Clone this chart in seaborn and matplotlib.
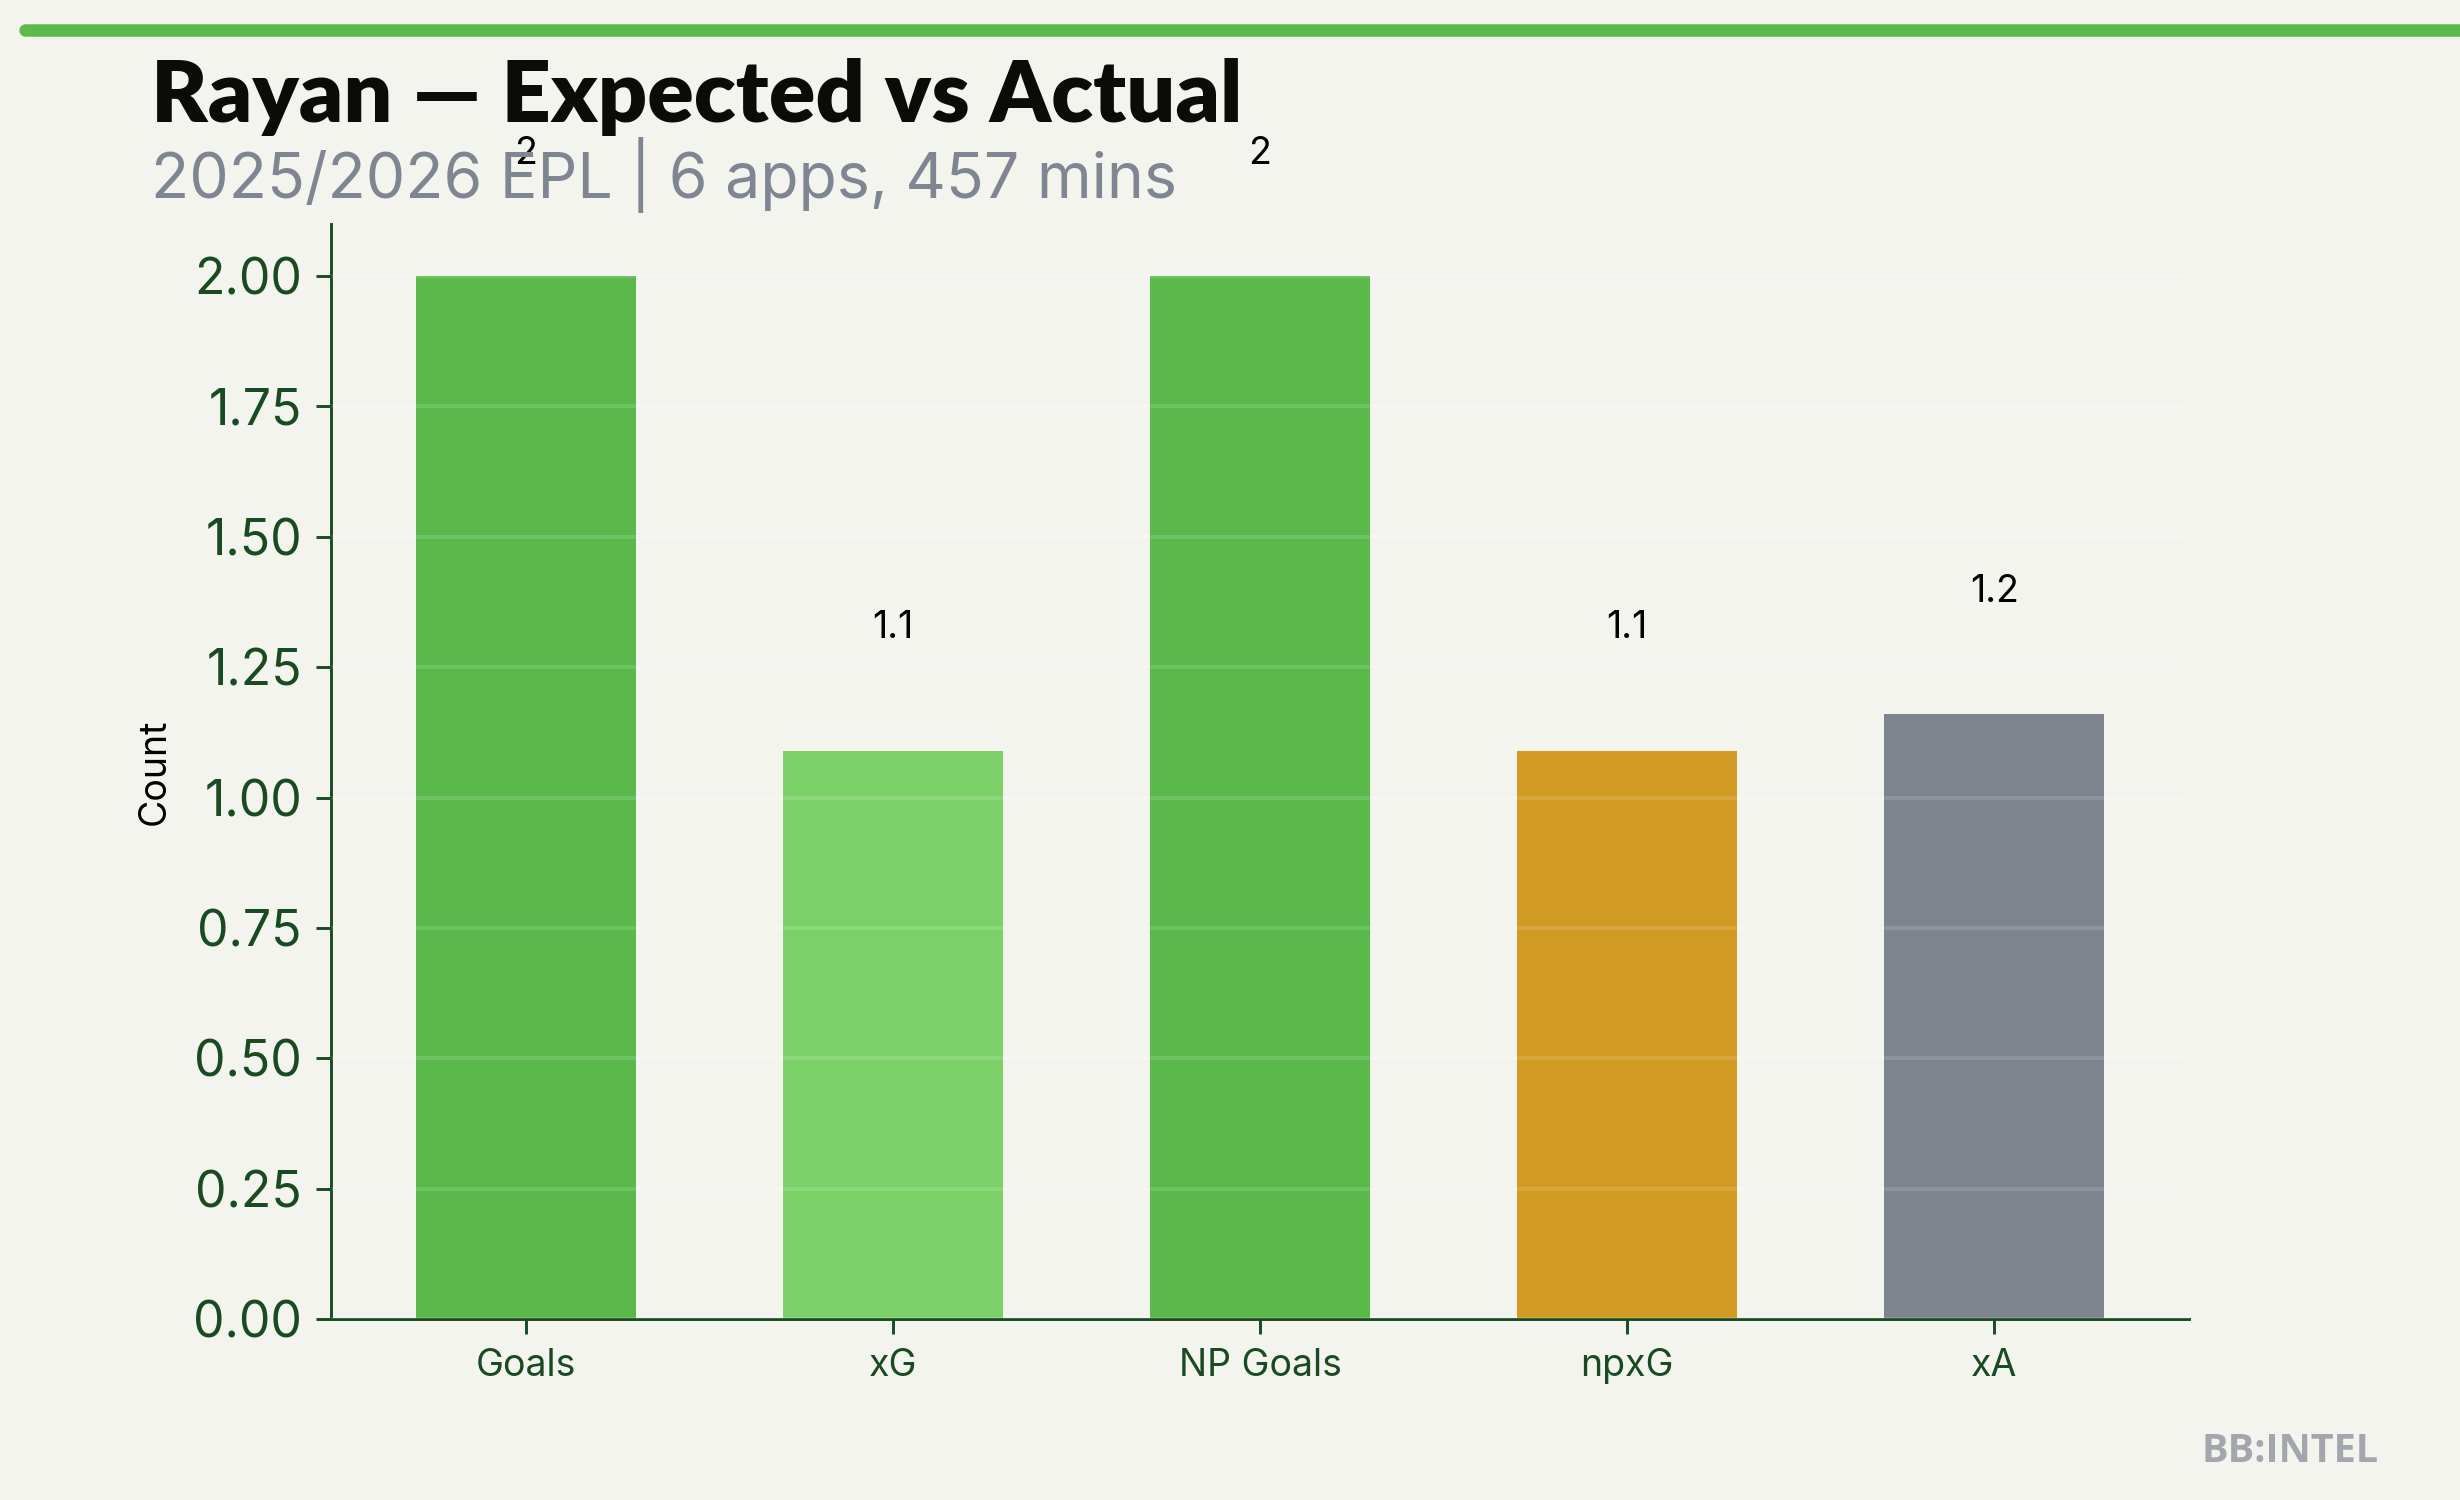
import matplotlib
matplotlib.use("Agg")
import matplotlib.pyplot as plt
import seaborn as sns

# ---------------------------------------------------------------
# Data
categories = ["Goals", "xG", "NP Goals", "npxG", "xA"]
values = [2, 1.09, 2, 1.09, 1.16]
bar_colors = ["#5ab94a", "#7bd068", "#5ab94a", "#d19a23", "#7e848e"]

player = "Rayan"
season = "2025/2026 EPL"
apps = 6
mins = 457

# ---------------------------------------------------------------
# Style
bg = "#f4f4ef"
dark_green = "#1a4a22"

sns.set_style("white")
plt.rcParams["font.family"] = ["Inter", "DejaVu Sans"]

fig = plt.figure(figsize=(8.2, 5), dpi=300, facecolor=bg)
ax = fig.add_axes([0.1346, 0.1207, 0.7552, 0.73])
ax.set_facecolor(bg)

sns.barplot(x=categories, y=values, hue=categories, palette=bar_colors,
            width=0.6, saturation=1, linewidth=0, legend=False, ax=ax)

# value labels above bars
top = max(values)
for i, v in enumerate(values):
    label = f"{v:.0f}" if float(v).is_integer() else f"{v:.1f}"
    ax.text(i, v + top * 0.1, label, ha="center", va="bottom",
            fontsize=9, color="black", clip_on=False)

ax.set_xlim(-0.53, 4.53)
ax.set_ylim(0, 2.1)
ax.set_yticks([0, 0.25, 0.5, 0.75, 1.0, 1.25, 1.5, 1.75, 2.0])
ax.set_yticklabels([f"{t:.2f}" for t in ax.get_yticks()])
ax.set_xlabel("")
ax.set_ylabel("Count", fontsize=9, color="black")
ax.yaxis.set_label_coords(-0.085, 0.5)

# faint grid drawn over the bars
ax.grid(axis="y", color="white", alpha=0.13, linewidth=1.0)
ax.set_axisbelow(False)

for s in ["top", "right"]:
    ax.spines[s].set_visible(False)
for s in ["left", "bottom"]:
    ax.spines[s].set_color(dark_green)
    ax.spines[s].set_linewidth(0.7)

ax.tick_params(axis="y", labelsize=12, colors=dark_green, length=3.5, width=0.7, left=True)
ax.tick_params(axis="x", labelsize=9, colors=dark_green, length=3.5, width=0.7, bottom=True)

# ---------------------------------------------------------------
# Header / footer
fig.add_artist(plt.Line2D([0.0102, 1.0], [0.98, 0.98], color="#5cba4b",
                          linewidth=3, transform=fig.transFigure))
fig.text(0.0613, 0.919, f"{player} \u2014 Expected vs Actual",
         fontsize=20.7, fontweight="heavy", family=["Lato", "DejaVu Sans"],
         color="#0a0c0a", ha="left", va="baseline")
fig.text(0.0613, 0.868, f"{season} | {apps} apps, {mins} mins",
         fontsize=15, color="#7f8591", ha="left", va="baseline")
fig.text(0.967, 0.025, "BB:INTEL", fontsize=9.5, fontweight="bold",
         family=["Open Sans", "DejaVu Sans"], color="#a3a7ad",
         ha="right", va="baseline")

fig.savefig("out.png", dpi=300, facecolor=bg)
